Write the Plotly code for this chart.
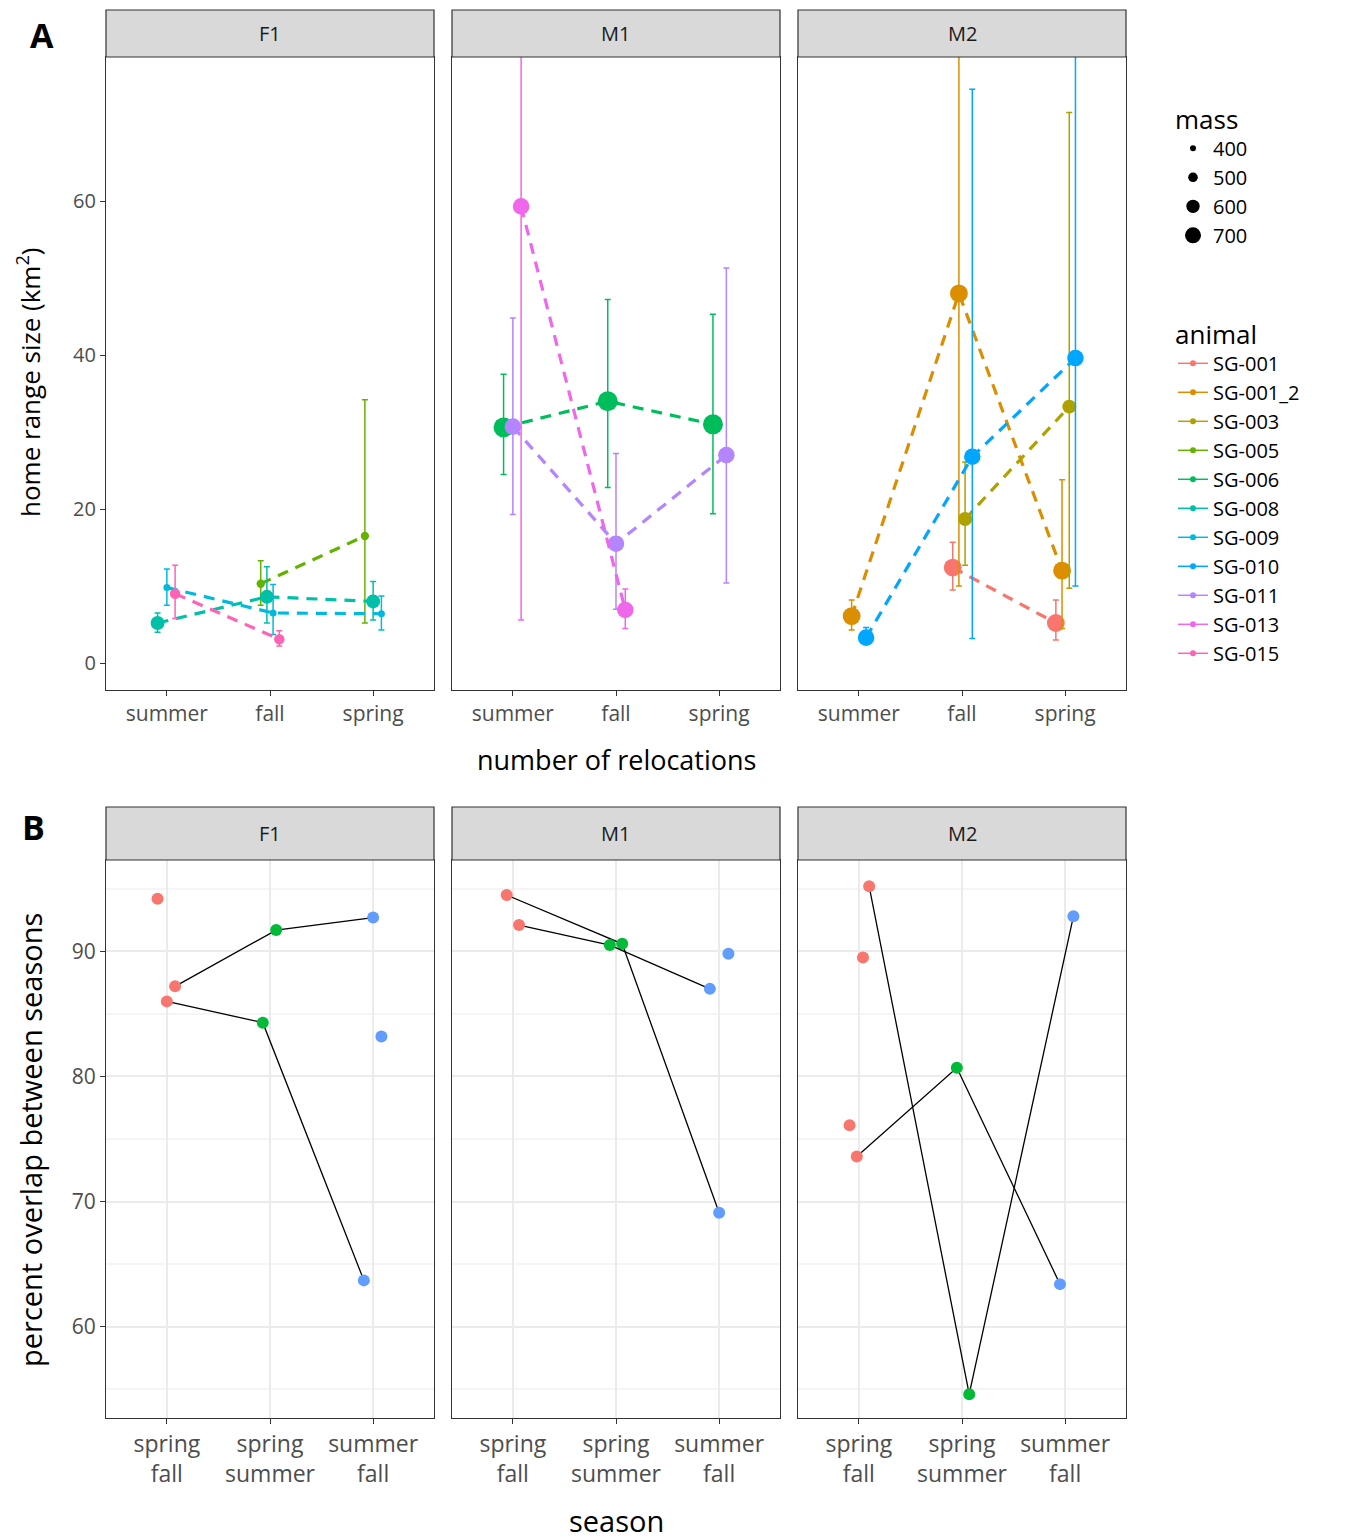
import plotly.graph_objects as go

W, H = 1347, 1537
OFF = 8  # browser body margin

# ---- panel A data ----
seasons_a = ["summer", "fall", "spring"]
facets = ["F1", "M1", "M2"]
animals = ["SG-001", "SG-001_2", "SG-003", "SG-005", "SG-006", "SG-008",
           "SG-009", "SG-010", "SG-011", "SG-013", "SG-015"]
animal_colors = ["#F8766D", "#DB8E00", "#AEA200", "#64B200", "#00BD5C", "#00C1A7",
                 "#00BADE", "#00A6FF", "#B385FF", "#EF67EB", "#FF63B6"]
mass = {"SG-001": 650, "SG-001_2": 650, "SG-003": 560, "SG-005": 430, "SG-006": 700,
        "SG-008": 560, "SG-009": 400, "SG-010": 620, "SG-011": 620, "SG-013": 620,
        "SG-015": 480}

# (facet, animal, season index, dodge, estimate, lower, upper)
hr_rows = [
    ("F1", "SG-008", 1, -0.09, 5.2, 4.0, 6.5),
    ("F1", "SG-008", 2, -0.03, 8.6, 5.2, 12.5),
    ("F1", "SG-008", 3, 0.00, 8.0, 5.6, 10.6),
    ("F1", "SG-009", 1, 0.00, 9.8, 7.5, 12.2),
    ("F1", "SG-009", 2, 0.03, 6.5, 3.7, 10.2),
    ("F1", "SG-009", 3, 0.08, 6.4, 4.3, 8.7),
    ("F1", "SG-015", 1, 0.08, 9.0, 5.8, 12.7),
    ("F1", "SG-015", 2, 0.09, 3.1, 2.2, 4.2),
    ("F1", "SG-005", 2, -0.09, 10.3, 7.5, 13.3),
    ("F1", "SG-005", 3, -0.08, 16.5, 5.2, 34.2),
    ("M1", "SG-006", 1, -0.09, 30.6, 24.5, 37.5),
    ("M1", "SG-006", 2, -0.08, 34.0, 22.8, 47.2),
    ("M1", "SG-006", 3, -0.06, 31.0, 19.4, 45.3),
    ("M1", "SG-011", 1, 0.00, 30.7, 19.3, 44.8),
    ("M1", "SG-011", 2, 0.00, 15.5, 7.0, 27.2),
    ("M1", "SG-011", 3, 0.07, 27.0, 10.4, 51.3),
    ("M1", "SG-013", 1, 0.08, 59.3, 5.6, 90.0),
    ("M1", "SG-013", 2, 0.09, 6.9, 4.5, 9.6),
    ("M2", "SG-001", 2, -0.09, 12.4, 9.5, 15.7),
    ("M2", "SG-001", 3, -0.09, 5.2, 3.0, 8.2),
    ("M2", "SG-001_2", 1, -0.07, 6.1, 4.3, 8.2),
    ("M2", "SG-001_2", 2, -0.03, 48.0, 10.0, 90.0),
    ("M2", "SG-001_2", 3, -0.03, 12.0, 4.5, 23.8),
    ("M2", "SG-003", 2, 0.03, 18.7, 12.7, 26.1),
    ("M2", "SG-003", 3, 0.04, 33.3, 9.7, 71.5),
    ("M2", "SG-010", 1, 0.07, 3.3, 2.5, 4.6),
    ("M2", "SG-010", 2, 0.10, 26.8, 3.2, 74.5),
    ("M2", "SG-010", 3, 0.10, 39.6, 10.0, 90.0),
]

# ---- panel B data ----
pairs_b = ["spring<br>fall", "spring<br>summer", "summer<br>fall"]
pair_colors = ["#F8766D", "#00BA38", "#619CFF"]
# per facet: list of animals, each [(dodge, value) or None] for the three pairs
overlap = {
    "F1": [[(0.08, 87.2), (0.06, 91.7), (0.00, 92.7)],
           [(0.00, 86.0), (-0.07, 84.3), (-0.09, 63.7)],
           [(-0.09, 94.2), None, (0.08, 83.2)]],
    "M1": [[(-0.06, 94.5), (0.06, 90.6), (0.00, 69.1)],
           [(0.06, 92.1), (-0.06, 90.5), (-0.09, 87.0)],
           [None, None, (0.09, 89.8)]],
    "M2": [[(-0.02, 73.6), (-0.05, 80.7), (-0.05, 63.4)],
           [(0.10, 95.2), (0.07, 54.6), (0.08, 92.8)],
           [(-0.09, 76.1), None, None],
           [(0.04, 89.5), None, None]],
}


def msize(m):
    return 7 + (m - 400) / 300 * 13


fig = go.Figure()
font = "Open Sans, Liberation Sans, Arial, sans-serif"
cols = [(106, 434), (452, 780), (798, 1126)]
rowA = (57, 690)
rowB = (860, 1418)


def px(x):
    return (x - OFF) / W


def py(y):
    return 1 - (y - OFF) / H


layout = {}
shapes = []
annotations = []
for r, (rowpx, tick_text, yr, dt) in enumerate([
        (rowA, seasons_a, [-3.5, 78.7], 20),
        (rowB, pairs_b, [52.7, 97.3], 10)]):
    for c, (x0, x1) in enumerate(cols):
        n = r * 3 + c + 1
        xa = "xaxis" if n == 1 else f"xaxis{n}"
        ya = "yaxis" if n == 1 else f"yaxis{n}"
        layout[xa] = dict(domain=[px(x0), px(x1)], anchor=f"y{n}" if n > 1 else "y",
                          range=[0.41, 3.59], tickvals=[1, 2, 3], ticktext=tick_text,
                          showline=True, linecolor="#333333", mirror=True, linewidth=1.2,
                          ticks="outside", ticklen=5, tickcolor="#333333",
                          showgrid=(r == 1), gridcolor="#EBEBEB", gridwidth=1.5,
                          zeroline=False, tickfont=dict(size=21, color="#4D4D4D"))
        layout[ya] = dict(domain=[py(rowpx[1]), py(rowpx[0])],
                          anchor=f"x{n}" if n > 1 else "x", range=yr, dtick=dt,
                          showline=True, linecolor="#333333", mirror=True, linewidth=1.2,
                          ticks="outside" if c == 0 else "", ticklen=5, tickcolor="#333333",
                          showticklabels=(c == 0), showgrid=(r == 1),
                          gridcolor="#EBEBEB", gridwidth=1.5, zeroline=False,
                          tickfont=dict(size=20, color="#4D4D4D"))
        if r == 1:
            layout[ya]["minor"] = dict(dtick=5, showgrid=True, gridcolor="#F5F5F5")
            layout[xa]["tickfont"]["size"] = 23
            layout[ya]["tickfont"]["size"] = 21
            layout[ya]["tickvals"] = [60, 70, 80, 90]
        # strip
        sy0 = rowpx[0] - (47 if r == 0 else 53)
        shapes.append(dict(type="rect", xref="paper", yref="paper",
                           x0=px(x0), x1=px(x1), y0=py(rowpx[0]), y1=py(sy0),
                           fillcolor="#D9D9D9", line=dict(color="#333333", width=1.2)))
        annotations.append(dict(text=facets[c], xref="paper", yref="paper",
                                x=(px(x0) + px(x1)) / 2, y=(py(rowpx[0]) + py(sy0)) / 2,
                                xanchor="center", yanchor="middle",
                                showarrow=False, font=dict(size=20, color="#1A1A1A")))

# panel A traces
for i, a in enumerate(animals):
    for c, f in enumerate(facets):
        rows = [row for row in hr_rows if row[0] == f and row[1] == a]
        if not rows:
            continue
        xs = [row[2] + row[3] for row in rows]
        ys = [row[4] for row in rows]
        ax = "x" if c == 0 else f"x{c + 1}"
        ayy = "y" if c == 0 else f"y{c + 1}"
        col = animal_colors[i]
        fig.add_trace(go.Scatter(
            x=xs, y=ys, xaxis=ax, yaxis=ayy, mode="lines+markers",
            line=dict(color=col, width=3.2, dash="11px,8px"),
            marker=dict(color=col, size=msize(mass[a])),
            error_y=dict(type="data", symmetric=False,
                         array=[row[6] - row[4] for row in rows],
                         arrayminus=[row[4] - row[5] for row in rows],
                         color=col, thickness=1.5, width=3),
            showlegend=False))

# panel A legends
for i, a in enumerate(animals):
    fig.add_trace(go.Scatter(x=[None], y=[None], mode="lines+markers", name=a,
                             line=dict(color=animal_colors[i], width=1.5),
                             marker=dict(color=animal_colors[i], size=6),
                             legend="legend2"))
for m in [400, 500, 600, 700]:
    fig.add_trace(go.Scatter(x=[None], y=[None], mode="markers", name=str(m),
                             marker=dict(color="black", size=msize(m) * 0.85),
                             legend="legend"))

# panel B traces
for c, f in enumerate(facets):
    ax = f"x{c + 4}"
    ayy = f"y{c + 4}"
    for series in overlap[f]:
        xs, ys, cs = [], [], []
        for k, p in enumerate(series):
            if p is None:
                xs.append(None)
                ys.append(None)
                cs.append("black")
            else:
                xs.append(k + 1 + p[0])
                ys.append(p[1])
                cs.append(pair_colors[k])
        fig.add_trace(go.Scatter(x=xs, y=ys, xaxis=ax, yaxis=ayy, mode="lines",
                                 line=dict(color="black", width=1.3), showlegend=False,
                                 connectgaps=False))
        fig.add_trace(go.Scatter(x=xs, y=ys, xaxis=ax, yaxis=ayy, mode="markers",
                                 marker=dict(color=cs, size=12), showlegend=False))


def label(text, x, y, size, angle=0):
    return dict(text=text, xref="paper", yref="paper", x=px(x), y=py(y),
                xanchor="center", yanchor="middle", textangle=angle,
                showarrow=False, font=dict(size=size, color="black"))


annotations += [
    label("<b>A</b>", 42, 35, 34),
    label("<b>B</b>", 34, 827, 34),
    label("number of relocations", 616, 760, 27),
    label("season", 616, 1520, 29),
    label("home range size (km<sup>2</sup>)", 29, 383, 26, -90),
    label("percent overlap between seasons", 30, 1140, 29, -90),
]

fig.update_layout(
    width=W, height=H, margin=dict(l=0, r=0, t=0, b=0),
    paper_bgcolor="white", plot_bgcolor="white",
    font=dict(family=font),
    shapes=shapes, annotations=annotations,
    legend=dict(title=dict(text="mass", font=dict(size=26, color="black")),
                x=px(1173), y=py(95), xanchor="left", yanchor="top",
                font=dict(size=20, color="black"), tracegroupgap=0, itemwidth=30),
    legend2=dict(title=dict(text="animal", font=dict(size=26, color="black")),
                 x=px(1173), y=py(310), xanchor="left", yanchor="top",
                 font=dict(size=20, color="black"), tracegroupgap=0, itemwidth=30),
    **layout,
)

fig.write_html("out.html")
